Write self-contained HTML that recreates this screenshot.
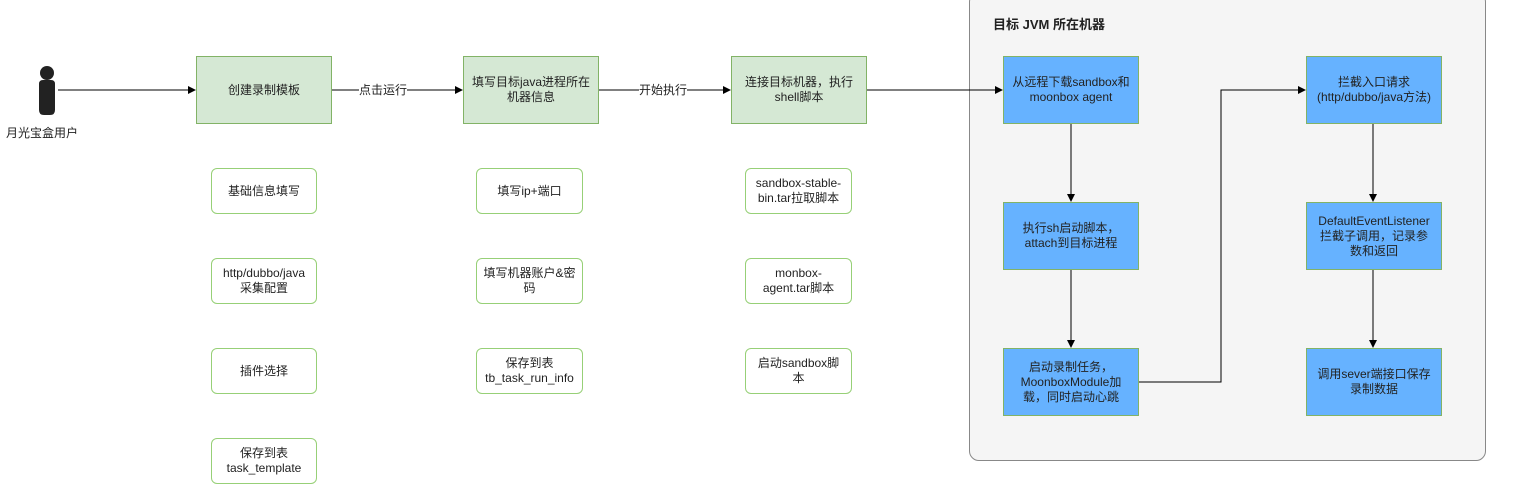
<!DOCTYPE html>
<html><head><meta charset="utf-8"><style>
body{margin:0;width:1526px;height:501px;background:#fff;position:relative;overflow:hidden;font-family:"Liberation Sans","Noto Sans CJK SC",sans-serif;font-size:12px;color:#222}
.b{position:absolute;display:flex;align-items:center;justify-content:center;text-align:center;box-sizing:border-box;line-height:15px;white-space:nowrap}
.g{background:#d5e8d4;border:1px solid #82b366}
.w{background:#fff;border:1.5px solid #97d077;border-radius:6px}
.bl{background:#66b2ff;border:1px solid #82b366}
.l{position:absolute;background:#fff;font-size:12px}
</style></head><body>
<div style="position:absolute;left:969px;top:-8px;width:517px;height:469px;background:#f5f5f5;border:1px solid #888;border-radius:10px;box-sizing:border-box"></div>
<div style="position:absolute;left:993px;top:14px;font-weight:bold;font-size:13px">目标 JVM 所在机器</div>
<svg style="position:absolute;left:0;top:0" width="1526" height="501">
<defs><marker id="a" markerWidth="8" markerHeight="8" refX="7" refY="4" orient="auto"><path d="M0,0L8,4L0,8Z" fill="#000"/></marker></defs>
<g stroke="#000" stroke-width="1" fill="none" marker-end="url(#a)">
<path d="M58 90H195"/><path d="M331 90H462"/><path d="M598 90H730"/><path d="M866 90H1002"/>
<path d="M1071 124V201"/><path d="M1071 270V347"/>
<path d="M1139 382H1221V90H1305"/>
<path d="M1373 124V201"/><path d="M1373 270V347"/>
</g>
<circle cx="47" cy="73" r="7" fill="#222"/>
<path d="M39 84Q39 80 43 80H51Q55 80 55 84V110Q55 115 50 115H44Q39 115 39 110Z" fill="#222"/>
</svg>
<div style="position:absolute;left:6px;top:124px;font-size:12px">月光宝盒用户</div>
<div class="l" style="left:359px;top:81px">点击运行</div>
<div class="l" style="left:639px;top:81px">开始执行</div>
<div class="b g" style="left:196px;top:56px;width:136px;height:68px">创建录制模板</div>
<div class="b g" style="left:463px;top:56px;width:136px;height:68px">填写目标java进程所在<br>机器信息</div>
<div class="b g" style="left:731px;top:56px;width:136px;height:68px">连接目标机器，执行<br>shell脚本</div>
<div class="b w" style="left:211px;top:168px;width:106px;height:46px">基础信息填写</div>
<div class="b w" style="left:211px;top:258px;width:106px;height:46px">http/dubbo/java<br>采集配置</div>
<div class="b w" style="left:211px;top:348px;width:106px;height:46px">插件选择</div>
<div class="b w" style="left:211px;top:438px;width:106px;height:46px">保存到表<br>task_template</div>
<div class="b w" style="left:476px;top:168px;width:107px;height:46px">填写ip+端口</div>
<div class="b w" style="left:476px;top:258px;width:107px;height:46px">填写机器账户&amp;密<br>码</div>
<div class="b w" style="left:476px;top:348px;width:107px;height:46px">保存到表<br>tb_task_run_info</div>
<div class="b w" style="left:745px;top:168px;width:107px;height:46px">sandbox-stable-<br>bin.tar拉取脚本</div>
<div class="b w" style="left:745px;top:258px;width:107px;height:46px">monbox-<br>agent.tar脚本</div>
<div class="b w" style="left:745px;top:348px;width:107px;height:46px">启动sandbox脚<br>本</div>
<div class="b bl" style="left:1003px;top:56px;width:136px;height:68px">从远程下载sandbox和<br>moonbox agent</div>
<div class="b bl" style="left:1003px;top:202px;width:136px;height:68px">执行sh启动脚本，<br>attach到目标进程</div>
<div class="b bl" style="left:1003px;top:348px;width:136px;height:68px">启动录制任务，<br>MoonboxModule加<br>载，同时启动心跳</div>
<div class="b bl" style="left:1306px;top:56px;width:136px;height:68px">拦截入口请求<br>(http/dubbo/java方法)</div>
<div class="b bl" style="left:1306px;top:202px;width:136px;height:68px">DefaultEventListener<br>拦截子调用，记录参<br>数和返回</div>
<div class="b bl" style="left:1306px;top:348px;width:136px;height:68px">调用sever端接口保存<br>录制数据</div>
</body></html>
